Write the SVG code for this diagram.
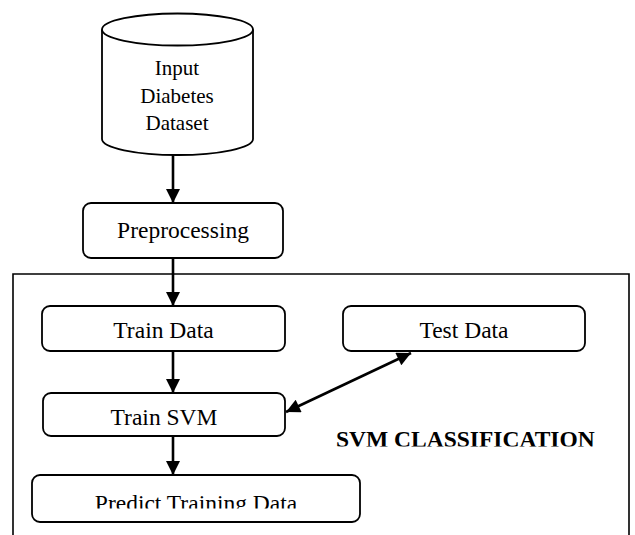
<svg xmlns="http://www.w3.org/2000/svg" width="635" height="535" viewBox="0 0 635 535">
  <style>
    .box { fill: #ffffff; stroke: #000000; stroke-width: 1.8; }
    .frame { fill: none; stroke: #000000; stroke-width: 1.6; }
    .lbl { font-family: "Liberation Serif", "Times New Roman", serif; font-size: 23.5px; fill: #000000; text-anchor: middle; }
    .db { font-family: "Liberation Serif", "Times New Roman", serif; font-size: 21px; fill: #000000; text-anchor: middle; }
    .title { font-family: "Liberation Serif", "Times New Roman", serif; font-size: 23.5px; font-weight: bold; fill: #000000; }
    .conn { fill: none; stroke: #000000; stroke-width: 2.6; }
  </style>
  <defs>
    <marker id="arrow" viewBox="0 0 10 10" refX="10" refY="5" markerUnits="userSpaceOnUse" markerWidth="16" markerHeight="14" orient="auto-start-reverse">
      <path d="M0,0 L10,5 L0,10 z" fill="#000000"/>
    </marker>
    <!-- lower edges of some labels are cut off by their boxes -->
    <clipPath id="clipSvm"><rect x="43" y="393" width="242" height="32"/></clipPath>
    <clipPath id="clipPredict"><rect x="32" y="475" width="328" height="33.5"/></clipPath>
    <clipPath id="clipTitle"><rect x="320" y="420" width="300" height="26.5"/></clipPath>
  </defs>

  <rect width="635" height="535" fill="#ffffff"/>

  <!-- SVM classification frame -->
  <g id="svm-frame">
    <path class="frame" d="M13,540 L13,274 L629,274 L629,540"/>
    <text class="title" x="336" y="447" clip-path="url(#clipTitle)">SVM CLASSIFICATION</text>
  </g>

  <!-- dataset cylinder -->
  <g id="input-dataset">
    <path class="box" d="M102,29.5 L102,139 A75.5,16 0 0 0 253,139 L253,29.5"/>
    <ellipse class="box" cx="177.5" cy="29.5" rx="75.5" ry="16"/>
    <text class="db" x="177" y="75">Input</text>
    <text class="db" x="177" y="103">Diabetes</text>
    <text class="db" x="177" y="130">Dataset</text>
  </g>

  <g id="preprocessing">
    <rect class="box" x="83" y="203" width="200" height="55" rx="8"/>
    <text class="lbl" x="183" y="238">Preprocessing</text>
  </g>

  <g id="train-data">
    <rect class="box" x="42" y="306" width="243" height="45" rx="8"/>
    <text class="lbl" x="163.5" y="338">Train Data</text>
  </g>

  <g id="test-data">
    <rect class="box" x="343" y="306" width="242" height="45" rx="8"/>
    <text class="lbl" x="464" y="338">Test Data</text>
  </g>

  <g id="train-svm">
    <rect class="box" x="43" y="393" width="242" height="43" rx="8"/>
    <text class="lbl" x="164" y="425" clip-path="url(#clipSvm)">Train SVM</text>
  </g>

  <g id="predict-training-data">
    <rect class="box" x="32" y="475" width="328" height="47" rx="8"/>
    <text class="lbl" x="196" y="510.5" clip-path="url(#clipPredict)">Predict Training Data</text>
  </g>

  <g id="connectors">
    <line class="conn" x1="173" y1="155" x2="173" y2="203" marker-end="url(#arrow)"/>
    <line class="conn" x1="173" y1="258" x2="173" y2="306" marker-end="url(#arrow)"/>
    <line class="conn" x1="173" y1="351" x2="173" y2="393" marker-end="url(#arrow)"/>
    <line class="conn" x1="173" y1="436" x2="173" y2="475" marker-end="url(#arrow)"/>
    <line class="conn" x1="286" y1="412" x2="411" y2="353" marker-start="url(#arrow)" marker-end="url(#arrow)"/>
  </g>
</svg>
